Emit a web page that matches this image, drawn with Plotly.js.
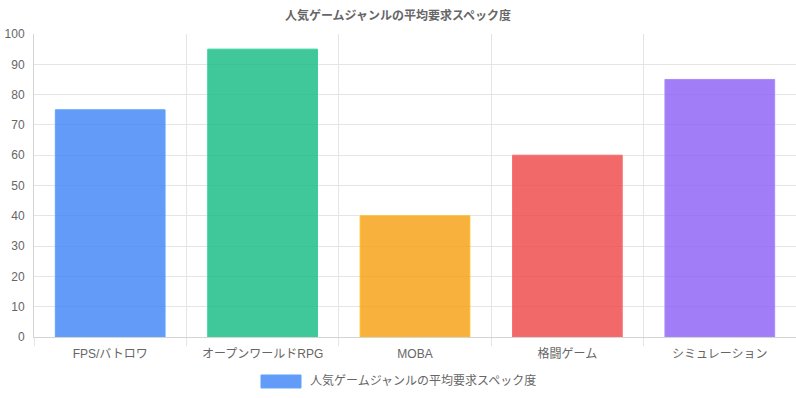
<!DOCTYPE html>
<html>
<head>
<meta charset="utf-8">
<script src="https://cdn.plot.ly/plotly-3.0.1.min.js"></script>
<style>html,body{margin:0;padding:0;background:#fff;}#chart{width:796px;height:398px;}</style>
</head>
<body>
<div id="chart"></div>
<script>
const categories = ["FPS/バトロワ", "オープンワールドRPG", "MOBA", "格闘ゲーム", "シミュレーション"];
const values = [75, 95, 40, 60, 85];
const seriesName = "人気ゲームジャンルの平均要求スペック度";
const chartTitle = "人気ゲームジャンルの平均要求スペック度";
const fillColors = ["rgba(59,130,246,0.8)", "rgba(16,185,129,0.8)", "rgba(245,158,11,0.8)", "rgba(239,68,68,0.8)", "rgba(139,92,246,0.8)"];
const borderColors = ["rgba(96,165,250,1)", "rgba(52,211,153,1)", "rgba(251,191,36,1)", "rgba(248,113,113,1)", "rgba(167,139,250,1)"];
const yTicks = [0, 10, 20, 30, 40, 50, 60, 70, 80, 90, 100];

const FONT = "'Liberation Sans', Arial, 'Noto Sans CJK JP', sans-serif";

const trace = {
  type: "bar",
  x: categories,
  y: values,
  name: seriesName,
  showlegend: false,
  marker: { color: fillColors, line: { color: borderColors, width: 1 } },
  hoverinfo: "x+y"
};

const layout = {
  width: 796, height: 398,
  margin: { l: 34, r: 0, t: 34, b: 61, autoexpand: false },
  paper_bgcolor: "#fff", plot_bgcolor: "#fff",
  font: { family: FONT, size: 12, color: "#666" },
  title: { text: "<b>" + chartTitle + "</b>", font: { family: FONT, size: 12, color: "#666" }, x: 0.5, xanchor: "center", y: 0.96, yanchor: "middle" },
  bargap: 0.28,
  xaxis: {
    type: "category",
    tickson: "boundaries",
    ticks: "outside", ticklen: 8, tickcolor: "#e5e5e5",
    ticklabelstandoff: 6,
    showgrid: true, gridcolor: "#e5e5e5",
    showline: true, linecolor: "#d4d4d4",
    tickfont: { family: FONT, size: 12, color: "#666" },
    fixedrange: true
  },
  yaxis: {
    range: [0, 100],
    tickvals: yTicks,
    ticks: "", ticklabelstandoff: 6,
    showgrid: true, gridcolor: "#e5e5e5",
    showline: true, linecolor: "#d4d4d4",
    zeroline: false,
    tickfont: { family: FONT, size: 12, color: "#666" },
    fixedrange: true
  },
  shapes: [{
    type: "rect", xref: "paper", yref: "paper",
    x0: 0.2979, x1: 0.3504, y0: -0.1683, y1: -0.1254,
    fillcolor: fillColors[0], line: { color: borderColors[0], width: 1 }
  }],
  annotations: [{
    xref: "paper", yref: "paper", x: 0.3596, y: -0.1452,
    xanchor: "left", yanchor: "middle", showarrow: false,
    text: seriesName, font: { family: FONT, size: 12, color: "#666" }
  }]
};

Plotly.newPlot("chart", [trace], layout, { displayModeBar: false });
</script>
</body>
</html>
